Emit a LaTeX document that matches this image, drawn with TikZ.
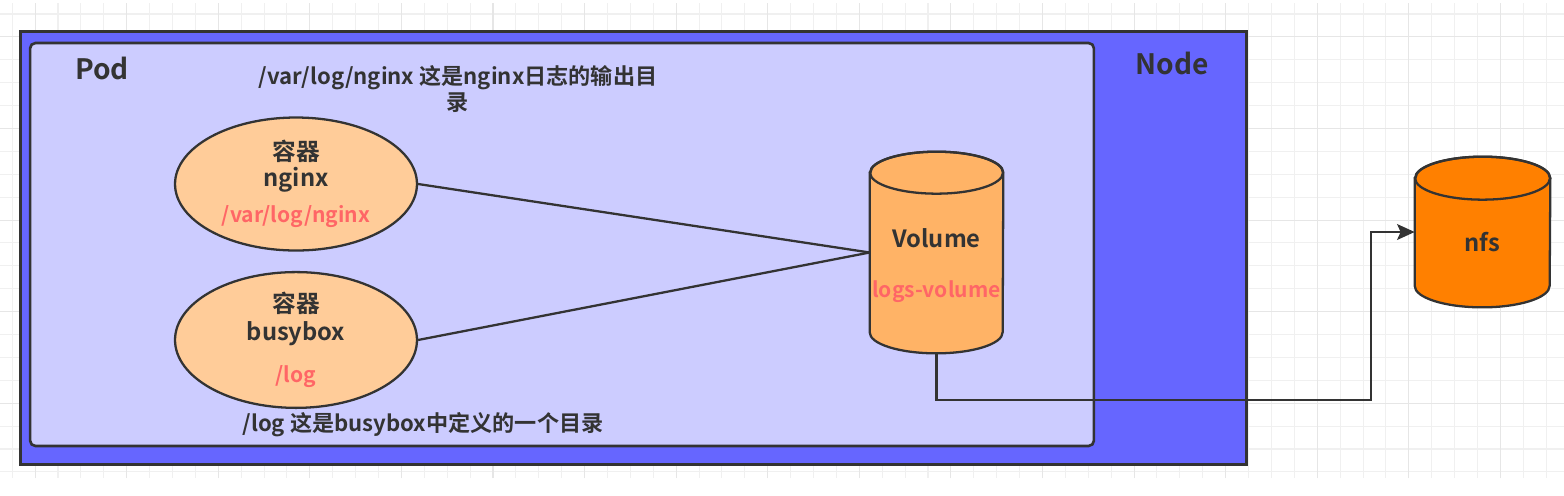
\documentclass[tikz,border=0pt]{standalone}
\usepackage{fontspec}
\setmainfont{Noto Sans CJK SC}[BoldFont={Noto Sans CJK SC Bold}]
\usepackage{tikz}
\usetikzlibrary{shapes.geometric,arrows.meta}
\definecolor{ink}{HTML}{333333}
\definecolor{gridminor}{HTML}{F0F0F0}
\definecolor{gridmajor}{HTML}{E6E6E6}
\definecolor{nodeblue}{HTML}{6666FF}
\definecolor{podfill}{HTML}{CCCCFF}
\definecolor{boxorange}{HTML}{FFCC99}
\definecolor{volorange}{HTML}{FFB366}
\definecolor{nfsorange}{HTML}{FF8000}
\definecolor{pathred}{HTML}{FF6666}
\tikzstyle{line} = [draw=ink, line width=1.3pt, -{Stealth[length=10pt, width=9pt, inset=2pt]}]
\tikzstyle{link} = [draw=ink, line width=1.3pt]
\tikzstyle{node_box} = [rectangle, draw=ink, line width=1.6pt, fill=nodeblue, minimum width=24.54cm, minimum height=8.66cm]
\tikzstyle{pod_box} = [rectangle, rounded corners=3pt, draw=ink, line width=1.5pt, fill=podfill, minimum width=21.28cm, minimum height=8.06cm]
\tikzstyle{container} = [ellipse, draw=ink, line width=1.3pt, fill=boxorange, minimum width=4.84cm, minimum height=2.66cm, inner sep=0pt, align=center, text=ink, font=\fontsize{13.5}{14.7}\selectfont\bfseries]
\tikzstyle{store_frame} = [rectangle, inner sep=0pt]
\tikzstyle{store_line} = [draw=ink, line width=1.3pt]
\tikzstyle{title} = [text=ink, font=\fontsize{16}{18}\selectfont\bfseries]
\tikzstyle{label} = [text=ink, font=\fontsize{13.5}{15}\selectfont\bfseries]
\tikzstyle{note} = [text=ink, align=center, font=\fontsize{12.6}{14.7}\selectfont\bfseries]
\tikzstyle{path_note} = [text=pathred, font=\fontsize{12}{14.7}\selectfont\bfseries]

\begin{document}
\begin{tikzpicture}[x=0.02cm, y=-0.02cm]
\useasboundingbox (0,0) rectangle (1564,495);

\begin{scope}[shift={(12.2,14)}]
\draw [gridminor, line width=0.6pt, step=0.458cm] (-12.2,-11) grid (1551.8,464);
\end{scope}
\begin{scope}[shift={(35.1,36.9)}]
\draw [gridmajor, line width=0.6pt, step=1.832cm] (-35.1,-33.9) grid (1528.9,441.1);
\end{scope}

\node [node_box] (node) at (633.5,248) {};
\node [title] (node_t) at (1172,63) {Node};
\node [pod_box] (pod) at (562,244.5) {};
\node [title] (pod_t) at (102,68) {Pod};

\node [note] (nginx_note) at (458,89) {/var/log/nginx 这是nginx日志的输出目\\录};
\node [container] (nginx) at (296,184) {容器\\nginx\\[6pt]{\fontsize{12}{14.7}\selectfont\textcolor{pathred}{/var/log/nginx}}};
\node [container, below of=nginx, node distance=3.12cm] (busybox) {容器\\[1.2pt]busybox\\[9.5pt]{\fontsize{12}{14.7}\selectfont\textcolor{pathred}{/log}}};
\node [note] (busybox_note) at (423,425) {/log 这是busybox中定义的一个目录};

\node [store_frame, minimum width=2.66cm, minimum height=4.02cm] (vol) at (936.5,252.5) {};
\draw [store_line, fill=volorange] ([yshift=-0.42cm]vol.north west) -- ([yshift=0.42cm]vol.south west) arc [start angle=180, end angle=360, x radius=1.33cm, y radius=0.42cm] -- ([yshift=-0.42cm]vol.north east) arc [start angle=0, end angle=180, x radius=1.33cm, y radius=0.42cm] -- cycle;
\draw [store_line] ([yshift=-0.42cm]vol.north) ellipse [x radius=1.33cm, y radius=0.42cm];
\node [label, above of=vol, node distance=0.29cm] (vol_t) {Volume};
\node [path_note, below of=vol, node distance=0.79cm] (vol_r) {logs-volume};

\node [store_frame, minimum width=2.7cm, minimum height=3cm] (nfs) at (1482.5,232) {};
\draw [store_line, fill=nfsorange] ([yshift=-0.43cm]nfs.north west) -- ([yshift=0.43cm]nfs.south west) arc [start angle=180, end angle=360, x radius=1.35cm, y radius=0.43cm] -- ([yshift=-0.43cm]nfs.north east) arc [start angle=0, end angle=180, x radius=1.35cm, y radius=0.43cm] -- cycle;
\draw [store_line] ([yshift=-0.43cm]nfs.north) ellipse [x radius=1.35cm, y radius=0.43cm];
\node [label, below of=nfs, node distance=0.2cm] (nfs_t) {nfs};

\path [link] (nginx.east) to (vol.west);
\path [link] (busybox.east) to (vol.west);

\coordinate (turn) at (1371,400);
\path [line] (vol.south) |- (turn) |- (nfs.west);

\end{tikzpicture}
\end{document}
